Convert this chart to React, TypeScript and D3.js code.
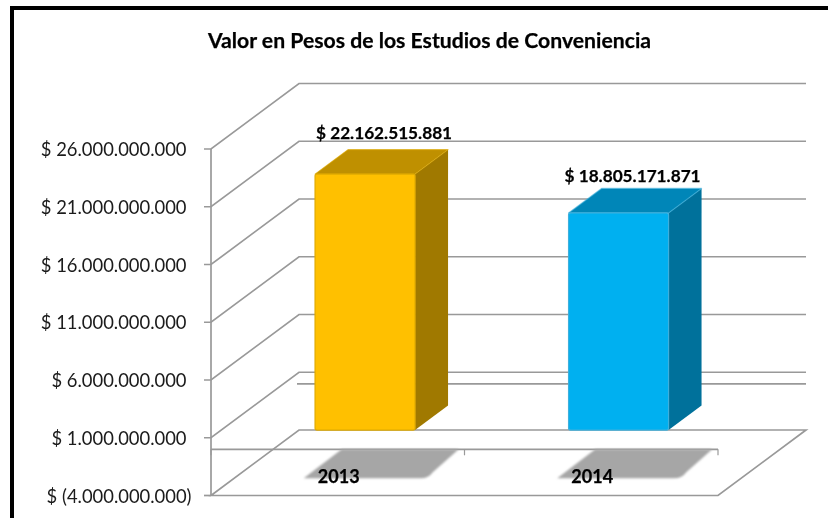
import React from "react";
import * as d3 from "d3";

const categories = ["2013", "2014"];
const values = [22162515881, 18805171871];
const valueLabels = ["$ 22.162.515.881", "$ 18.805.171.871"];
const tickValues = [26e9, 21e9, 16e9, 11e9, 6e9, 1e9, -4e9];
const tickLabels = ["$ 26.000.000.000", "$ 21.000.000.000", "$ 16.000.000.000", "$ 11.000.000.000", "$ 6.000.000.000", "$ 1.000.000.000", "$ (4.000.000.000)"];
const frontColors = ["#FFC000", "#00B0F0"];
const topColors = ["#BF9000", "#0086B8"];
const sideColors = ["#A07900", "#00719B"];
const edgeColors = ["#E0AA00", "#3FB0DC"];
const title = "Valor en Pesos de los Estudios de Conveniencia";

const W = 828, H = 518;
const depthX = 88, depthY = -65.5;
const y = d3.scaleLinear().domain([-4e9, 26e9]).range([495.5, 149]);
const x = d3.scaleBand().domain(categories).range([211, 718]).paddingInner(0).paddingOuter(0);
const barWidth = 100;
const zeroY = y(0);
const FONT = "Lato, Carlito, Calibri, sans-serif";
const GRID = "#999999";
const SW = 1.7;

function pts(p: [number, number][]) {
  return p.map((d) => d.join(",")).join(" ");
}

export default function App() {
  const [x0, x1] = x.range();
  const barShiftX = 27.3, barShiftY = -19.2;
  const bdx = 33, bdy = -24.5;
  const bold = { fontFamily: FONT, fontWeight: 700, fill: "#000", stroke: "#000", strokeWidth: 0.25, filter: "url(#txt)" };
  return (
    <svg width={W} height={H} style={{ position: "absolute", left: 0, top: 0, background: "#fff" }}>
      <defs>
        <filter id="soft" x="-20%" y="-20%" width="140%" height="140%">
          <feGaussianBlur stdDeviation="1.2" />
        </filter>
        <filter id="txt" x="-5%" y="-20%" width="110%" height="140%">
          <feGaussianBlur stdDeviation="0.35" />
        </filter>
      </defs>
      {/* frame */}
      <path d={`M12,${H} V8 H${W}`} fill="none" stroke="#000" strokeWidth={4} />
      <text x={429.5} y={48} textAnchor="middle" fontSize={21.2} {...bold}>{title}</text>

      {/* gridlines on side and back walls */}
      {tickValues.slice(0, -1).map((t) => (
        <polyline key={t} fill="none" stroke={GRID} strokeWidth={SW}
          points={pts([[x0 - 7, y(t)], [x0, y(t)], [x0 + depthX, y(t) + depthY], [x1 + depthX, y(t) + depthY]])} />
      ))}
      {/* zero line on back wall */}
      <line x1={x0 + depthX - 2} x2={x1 + depthX} y1={zeroY + depthY} y2={zeroY + depthY} stroke={GRID} strokeWidth={SW} />
      {/* floor */}
      <polygon fill="#fff" stroke={GRID} strokeWidth={SW}
        points={pts([[x0, y(-4e9)], [x0 + depthX, y(-4e9) + depthY], [x1 + depthX, y(-4e9) + depthY], [x1, y(-4e9)]])} />
      <line x1={x0 - 7} x2={x0} y1={y(-4e9)} y2={y(-4e9)} stroke={GRID} strokeWidth={SW} />
      {/* left axis */}
      <line x1={x0} x2={x0} y1={y(26e9)} y2={y(-4e9)} stroke={GRID} strokeWidth={SW} />
      {/* category axis at zero */}
      <line x1={x0} x2={x1} y1={zeroY} y2={zeroY} stroke={GRID} strokeWidth={SW} />
      {[x0, x0 + x.step(), x1].map((t) => (
        <line key={t} x1={t} x2={t} y1={zeroY} y2={zeroY + 6} stroke={GRID} strokeWidth={1.2} />
      ))}

      {/* bar shadows on the floor */}
      {categories.map((c) => {
        const cx = x(c)! + x.bandwidth() / 2;
        const top = zeroY, bot = zeroY + 29;
        return (
          <path key={c} filter="url(#soft)" fill="#A6A6A6"
            d={`M${cx - 34},${bot} L${cx + 4},${top} H${cx + 121} L${cx + 95},${bot - 6} Q${cx + 91},${bot} ${cx + 83},${bot} Z`} />
        );
      })}

      {/* bars */}
      {categories.map((c, i) => {
        const cx = x(c)! + x.bandwidth() / 2 + barShiftX;
        const l = cx - barWidth / 2, r = cx + barWidth / 2;
        const b = zeroY + barShiftY, t = y(values[i]) + barShiftY;
        return (
          <g key={c}>
            <polygon fill={sideColors[i]} points={pts([[r, b], [r + bdx, b + bdy], [r + bdx, t + bdy], [r, t]])} />
            <polygon fill={topColors[i]} stroke={edgeColors[i]} strokeOpacity={0.6} strokeWidth={1.2} strokeLinejoin="round"
              points={pts([[l, t], [l + bdx, t + bdy], [r + bdx, t + bdy], [r, t]])} />
            <rect x={l} y={t} width={barWidth} height={b - t} rx={2} fill={frontColors[i]} stroke={edgeColors[i]} strokeWidth={1.2} />
            <text x={cx + (i === 0 ? 19 : 14)} y={t + bdy - (i === 0 ? 11 : 6.5)} textAnchor="middle" fontSize={17.2} {...bold}>{valueLabels[i]}</text>
          </g>
        );
      })}

      {/* axis labels */}
      {tickValues.map((t, i) => (
        <text key={t} x={i === tickValues.length - 1 ? 191.5 : 186.5} y={y(t) + 7} textAnchor="end" fontFamily={FONT} fontSize={18.4} fill="#1a1a1a" filter="url(#txt)">{tickLabels[i]}</text>
      ))}
      {categories.map((c) => (
        <text key={c} x={x(c)! + x.bandwidth() / 2 + 1} y={483} textAnchor="middle" fontSize={18} {...bold}>{c}</text>
      ))}
    </svg>
  );
}
